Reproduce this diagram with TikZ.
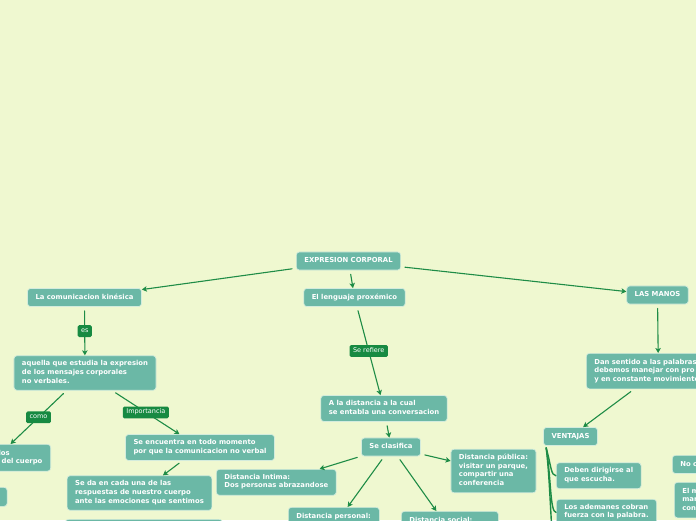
\documentclass[tikz,border=0pt]{standalone}
\usepackage{fontspec}
\setmainfont{DejaVu Sans}
\usetikzlibrary{arrows.meta,calc}
\definecolor{mapPaper}{HTML}{EFF8D0}
\definecolor{mapNode}{HTML}{6BB8A6}
\definecolor{mapRim}{HTML}{D3ECDD}
\definecolor{mapLink}{HTML}{1E8C46}
\definecolor{mapTag}{HTML}{178A42}

\begin{document}
\begin{tikzpicture}[x=1pt,y=-1pt,>=Stealth,line cap=round,line join=round]
\path[use as bounding box,clip] (0,0) rectangle (696,520);
\path[fill=mapPaper] (0,0) rectangle (696,520);
\tikzset{topic/.style={draw=mapRim,line width=0.7pt,fill=mapNode,rounded corners=3pt,text=white,align=left,inner xsep=8pt,inner ysep=4.7pt,font=\fontsize{6.85}{8.7}\selectfont\bfseries,execute at begin node=\strut,execute at end node=\strut},link/.style={draw=mapLink,line width=1.1pt,shorten <=4pt,-{Stealth[length=5pt,width=5.5pt,inset=1.2pt]}},tag/.style={fill=mapTag,text=white,rounded corners=1.5pt,inner xsep=3.5pt,inner ysep=2.4pt,font=\fontsize{6.5}{7}\selectfont,execute at begin node=\strut},branch/.style={draw=mapLink,line width=1.4pt}}
% central topic and first level
\node[topic] (expr) at (348.5,261) {EXPRESION CORPORAL};
\node[topic] (kin) at (84.5,297.5) {La comunicacion kinésica};
\node[topic] (prox) at (354.5,297.5) {El lenguaje proxémico};
\node[topic] (manos) at (657.5,295) {LAS MANOS};
% kinesica side
\node[topic] (aquella) at (85,373) {aquella que estudia la expresion\\de los mensajes corporales\\no verbales.};
\node[topic,anchor=north east,text width=93pt] (gestos) at (51,444) {\hspace*{49pt}los\\\hspace*{52pt}del cuerpo};
\node[topic,anchor=north east,minimum width=60pt,minimum height=19pt] (lefttip) at (7.5,487) {};
\node[topic] (encuentra) at (200,447.5) {Se encuentra en todo momento\\por que la comunicacion no verbal};
\node[topic] (respuesta) at (139.5,493) {Se da en cada una de las\\respuestas de nuestro cuerpo\\ante las emociones que sentimos};
\node[topic,anchor=north west,minimum width=157pt,minimum height=30pt] (bajo) at (65,519) {};
% proxemico side
\node[topic] (dist) at (384,408.5) {A la distancia a la cual\\se entabla una conversacion};
\node[topic] (clas) at (391,447) {Se clasifica};
\node[topic] (publica) at (493.5,471) {Distancia pública:\\visitar un parque,\\compartir una\\conferencia};
\node[topic] (intima) at (276.3,482.3) {Distancia Intima:\\Dos personas abrazandose};
\node[topic,anchor=north west,text width=75pt,text depth=22pt] (personal) at (288,507) {Distancia personal:};
\node[topic,anchor=north west,text width=81pt,text depth=22pt] (social) at (401,511) {Distancia social:};
% manos side
\node[topic,anchor=north west,text width=128pt] (sentido) at (586,353) {Dan sentido a las palabras\\debemos manejar con pro\\y en constante movimiento};
\node[topic] (ventajas) at (570.5,436.5) {VENTAJAS};
\node[topic] (deben) at (598.7,475.7) {Deben dirigirse al\\que escucha.};
\node[topic,anchor=north west] (ademanes) at (556,499) {Los ademanes cobran\\fuerza con la palabra.};
\node[topic,anchor=north west,text width=60pt] (noc) at (672,455) {No c};
\node[topic,anchor=north west,text width=60pt] (elm) at (674,482) {El m\\man\\con};
\coordinate (desv) at (760,423);
\coordinate (ventmas) at (557,560);
% links
\draw[link] (expr) -- (kin);
\draw[link] (expr) -- (prox);
\draw[link] (expr) -- (manos);
\draw[link] (kin) -- node[tag] (tagEs) {es} (aquella);
\draw[link] (prox) -- node[tag] (tagRef) {Se refiere} (dist);
\draw[link] (aquella) -- node[tag] (tagComo) {como} (gestos);
\draw[link] (aquella) -- node[tag] (tagImp) {Importancia} (encuentra);
\draw[link] (encuentra) -- (respuesta);
\draw[link] (dist) -- (clas);
\draw[link] (clas) -- (intima);
\draw[link] (clas) -- (personal);
\draw[link] (clas) -- (social);
\draw[link] (clas) -- (publica);
\draw[link] (manos) -- (sentido);
\draw[link] (sentido) -- (ventajas);
\draw[link] (sentido) -- (desv);
\draw[branch] ($(ventajas.south west)+(3,2)$) .. controls +(5,18) and +(-5,0) .. (deben.west);
\draw[branch] ($(ventajas.south west)+(3,2)$) .. controls +(5,30) and +(-6,0) .. (ademanes.west);
\draw[branch] ($(ventajas.south west)+(3,2)$) .. controls +(5,40) and +(-6,0) .. (ventmas);
\end{tikzpicture}
\end{document}
